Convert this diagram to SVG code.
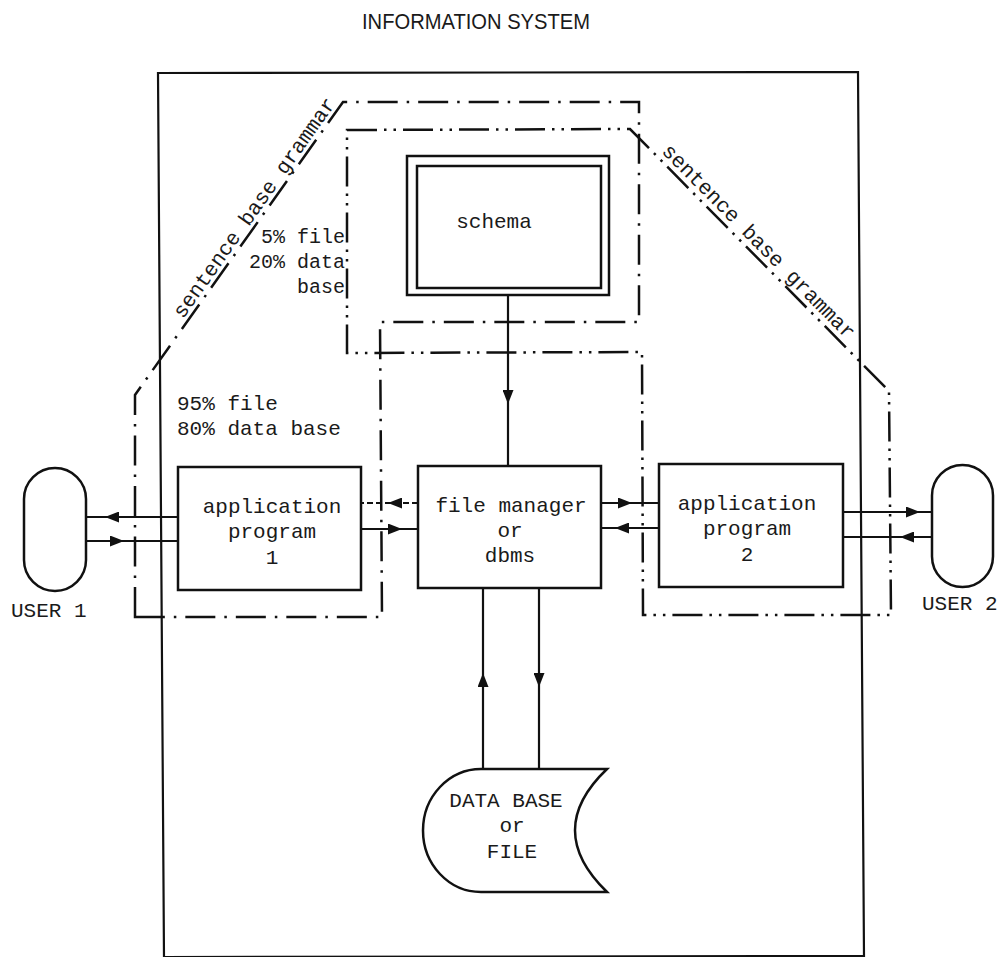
<svg xmlns="http://www.w3.org/2000/svg" width="999" height="957" viewBox="0 0 999 957">
<style>
  .mono { font-family: "Liberation Mono", "DejaVu Sans Mono", monospace; font-size: 21px; fill: #1a1a1a; }
  .small { font-size: 20px; }
  .title { font-family: "Liberation Sans", "DejaVu Sans", sans-serif; font-size: 22px; fill: #1a1a1a; }
  .box { fill: #ffffff; stroke: #111; stroke-width: 2.5; }
  .frame { fill: none; stroke: #111; stroke-width: 2.2; }
  .dd1 { fill: none; stroke: #111; stroke-width: 2.5; stroke-dasharray: 30 9 2.5 9; }
  .dd2 { fill: none; stroke: #111; stroke-width: 2.5; stroke-dasharray: 30 7 2.5 7 2.5 7; }
  .conn { fill: none; stroke: #111; stroke-width: 2.2; marker-mid: url(#ah); }
  .dashed { stroke-dasharray: 6 3; stroke-width: 1.8; }
</style>
<defs>
  <marker id="ah" viewBox="0 0 14 11" refX="14" refY="5.5" markerWidth="14" markerHeight="11" markerUnits="userSpaceOnUse" orient="auto">
    <path d="M0,0 L14,5.5 L0,11 Z" fill="#111"/>
  </marker>
</defs>
<rect width="999" height="957" fill="#ffffff"/>

<text class="title" x="362" y="29" textLength="228" lengthAdjust="spacingAndGlyphs">INFORMATION SYSTEM</text>

<g id="information-system-frame">
  <path class="frame" d="M158 73 L858 72 L864 956 L164 957 Z"/>
</g>

<g id="grammar-region-1">
  <path class="dd1" d="M135 617 L135 395 L343 102 L639 102 L639 322 L380 322 L382 617 Z"/>
  <text class="mono" transform="translate(183 319.5) rotate(-54.63)">sentence base grammar</text>
</g>

<g id="grammar-region-2">
  <path class="dd2" d="M347 130 L630 129 L889 391 L891 615 L643 615 L642 352 L347 353 Z"/>
  <text class="mono" transform="translate(661 152) rotate(45.35)">sentence base grammar</text>
</g>

<g id="labels">
  <text class="mono small" x="345" y="243" text-anchor="end">5% file</text>
  <text class="mono small" x="345" y="268" text-anchor="end">20% data</text>
  <text class="mono small" x="345" y="293" text-anchor="end">base</text>
  <text class="mono" x="177" y="410">95% file</text>
  <text class="mono" x="177" y="435">80% data base</text>
</g>

<g id="schema">
  <rect class="box" x="407" y="156" width="202" height="139"/>
  <rect class="box" x="417" y="166" width="184" height="122"/>
  <text class="mono" x="494" y="228" text-anchor="middle">schema</text>
</g>

<g id="file-manager">
  <rect class="box" x="418" y="466" width="183" height="122"/>
  <text class="mono" x="511" y="512" text-anchor="middle">file manager</text>
  <text class="mono" x="510" y="537" text-anchor="middle">or</text>
  <text class="mono" x="510" y="562" text-anchor="middle">dbms</text>
</g>

<g id="application-program-1">
  <rect class="box" x="178" y="467" width="183" height="123"/>
  <text class="mono" x="272" y="513" text-anchor="middle">application</text>
  <text class="mono" x="272" y="538" text-anchor="middle">program</text>
  <text class="mono" x="272" y="564" text-anchor="middle">1</text>
</g>

<g id="application-program-2">
  <rect class="box" x="659" y="464" width="184" height="123"/>
  <text class="mono" x="747" y="510" text-anchor="middle">application</text>
  <text class="mono" x="747" y="535" text-anchor="middle">program</text>
  <text class="mono" x="747" y="561" text-anchor="middle">2</text>
</g>

<g id="user-1">
  <rect class="box" x="24" y="468" width="62" height="123" rx="31" ry="31"/>
  <text class="mono" x="11" y="617">USER 1</text>
</g>

<g id="user-2">
  <rect class="box" x="932" y="465" width="61" height="122" rx="30.5" ry="30.5"/>
  <text class="mono" x="922" y="610">USER 2</text>
</g>

<g id="data-base">
  <path class="box" d="M481 769 L607 769 Q543 830 607 892 L481 892 A58 61.5 0 0 1 481 769 Z"/>
  <text class="mono" x="506" y="807" text-anchor="middle">DATA BASE</text>
  <text class="mono" x="512" y="832" text-anchor="middle">or</text>
  <text class="mono" x="512" y="858" text-anchor="middle">FILE</text>
</g>

<g id="connectors">
  <path class="conn" d="M178 517 L105 517 L86 517"/>
  <path class="conn" d="M86 541 L124 541 L178 541"/>
  <path class="conn dashed" d="M418 503 L388 503 L361 503"/>
  <path class="conn" d="M361 529 L402 529 L418 529"/>
  <path class="conn" d="M601 503 L632 503 L659 503"/>
  <path class="conn" d="M659 528 L615 528 L601 528"/>
  <path class="conn" d="M843 512 L920 512 L932 512"/>
  <path class="conn" d="M932 537 L900 537 L843 537"/>
  <path class="conn" d="M508 295 L508 404 L508 466"/>
  <path class="conn" d="M483 769 L483 673 L483 588"/>
  <path class="conn" d="M539 588 L539 687 L539 769"/>
</g>
</svg>
